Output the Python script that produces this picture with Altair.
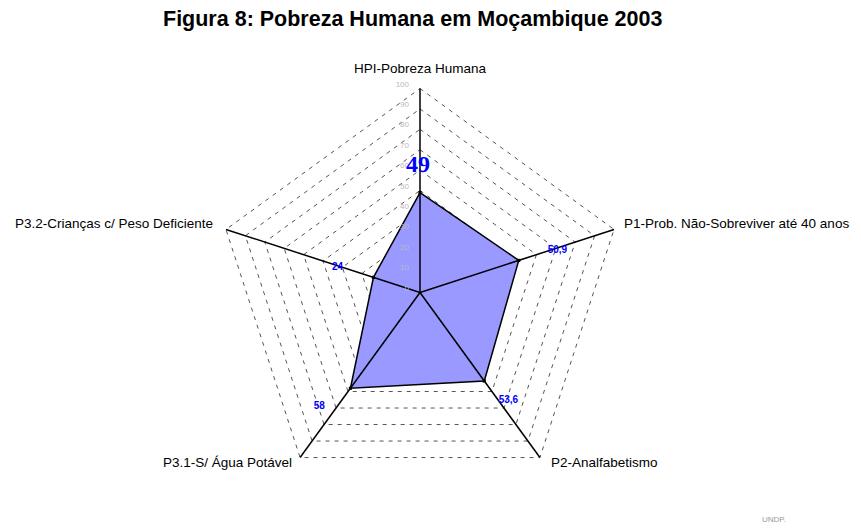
import altair as alt
import pandas as pd

# ---------------- data ----------------
title_text = "Figura 8: Pobreza Humana em Moçambique 2003"
categories = [
    "HPI-Pobreza Humana",
    "P1-Prob. Não-Sobreviver até 40 anos",
    "P2-Analfabetismo",
    "P3.1-S/ Água Potável",
    "P3.2-Crianças c/ Peso Deficiente",
]
values = [49, 50.9, 53.6, 58, 24]
value_labels = ["49", "50,9", "53,6", "58", "24"]
grid_levels = [10, 20, 30, 40, 50, 60, 70, 80, 90, 100]
tick_values = [0, 10, 20, 30, 40, 50, 60, 70, 80, 90, 100]
tick_labels = ["0", "10", "20", "30", "40", "50", "60", "70", "80", "90", "100"]
source_note = "UNDP."

# ---------------- layout ----------------
W = 840
TITLE_FS = 21.5
TITLE_OFFSET = 4
H = 505 - TITLE_FS - TITLE_OFFSET
T = 8 + TITLE_FS + TITLE_OFFSET - 8  # page y of plot top (measured)
CX, CY = 420, 295                    # page coords of radar centre
K = 2.04                             # pixels per unit of value
x_dom = [-(CX - 8) / K, (8 + W - CX) / K]
y_dom = [-(T + H - CY) / K, (CY - T) / K]

axes_df = pd.DataFrame({"i": list(range(len(categories))), "cat": categories,
                        "value": values, "label": value_labels})
rings_df = pd.DataFrame([{"level": L, "i": i} for L in grid_levels for i in range(len(categories))])
ticks_df = pd.DataFrame({"level": tick_values, "label": tick_labels})

X = alt.X("x:Q", scale=alt.Scale(domain=x_dom, nice=False, zero=False), axis=None)
Y = alt.Y("y:Q", scale=alt.Scale(domain=y_dom, nice=False, zero=False), axis=None)
THETA = "PI/2 - 2*PI*datum.i/5"

# grid rings (dashed pentagons)
rings = alt.Chart(rings_df).transform_calculate(
    theta=THETA,
    x="datum.level*cos(datum.theta)",
    y="datum.level*sin(datum.theta)",
).mark_line(interpolate="linear-closed", color="#555555", strokeWidth=1,
            strokeDash=[4, 5]).encode(x=X, y=Y, detail="level:N", order="i:Q")

# data polygon
base_poly = alt.Chart(axes_df).transform_calculate(
    theta=THETA,
    x="datum.value*cos(datum.theta)",
    y="datum.value*sin(datum.theta)",
)
poly = base_poly.mark_line(interpolate="linear-closed", fill="#9999FF", color="black",
                           strokeWidth=1.5).encode(x=X, y=Y, order="i:Q")
verts = base_poly.mark_square(size=10, color="black", opacity=1).encode(x=X, y=Y)

# spokes
spokes = alt.Chart(axes_df).transform_calculate(
    theta=THETA,
    x="0", y="0",
    xe="100*cos(datum.theta)",
    ye="100*sin(datum.theta)",
).mark_rule(color="black", strokeWidth=1.5).encode(x=X, y=Y, x2="xe:Q", y2="ye:Q")

# radial tick labels along the top axis
ticks = alt.Chart(ticks_df).transform_calculate(x="0", y="datum.level").mark_text(
    align="right", baseline="middle", dx=-11, dy=-4, fontSize=8,
    font="Liberation Sans", color="#bbbbbb"
).encode(x=X, y=Y, text="label:N")

# value labels
def value_label(i, rofs, **kw):
    return alt.Chart(axes_df).transform_filter(f"datum.i == {i}").transform_calculate(
        theta=THETA,
        r=f"datum.value + {rofs}",
        x="datum.r*cos(datum.theta)",
        y="datum.r*sin(datum.theta)",
    ).mark_text(color="#0000ff", baseline="middle", **kw).encode(x=X, y=Y, text="label:N")

small = dict(fontSize=10, fontWeight="bold", font="Liberation Sans")
vlabels = [
    value_label(0, 13.3, fontSize=24, fontWeight="bold", font="Liberation Serif", dx=-2),
    value_label(1, 15.8, dx=8, **small),
    value_label(2, 11.8, dx=10, **small),
    value_label(3, 11, dx=-18, **small),
    value_label(4, 17, dx=-3, **small),
]

# category labels at the spoke ends
def cat_label(i, align, dx, dy):
    return alt.Chart(axes_df).transform_filter(f"datum.i == {i}").transform_calculate(
        theta=THETA,
        x="100*cos(datum.theta)",
        y="100*sin(datum.theta)",
    ).mark_text(align=align, baseline="middle", dx=dx, dy=dy, fontSize=13.5,
                font="Liberation Sans", color="black").encode(x=X, y=Y, text="cat:N")

clabels = [
    cat_label(0, "center", 0, -20),
    cat_label(1, "left", 10, -5),
    cat_label(2, "left", 11, 5),
    cat_label(3, "right", -8, 5),
    cat_label(4, "right", -13, -5),
]

note = alt.Chart(pd.DataFrame({"t": [source_note]})).mark_text(
    fontSize=8, font="Liberation Sans", color="#999999", align="left", baseline="middle"
).encode(x=alt.value(762 - 8), y=alt.value(522 - T), text="t:N")

chart = alt.layer(rings, poly, spokes, verts, ticks, *vlabels, *clabels, note).properties(
    width=W, height=H, padding=0,
    title=alt.Title(title_text, fontSize=TITLE_FS, fontWeight="bold", font="Liberation Sans",
                    anchor="start", offset=TITLE_OFFSET, dx=155, dy=11, color="black"),
).configure_view(strokeWidth=0)

chart.save("out.html", embed_options={"renderer": "svg", "actions": False})
